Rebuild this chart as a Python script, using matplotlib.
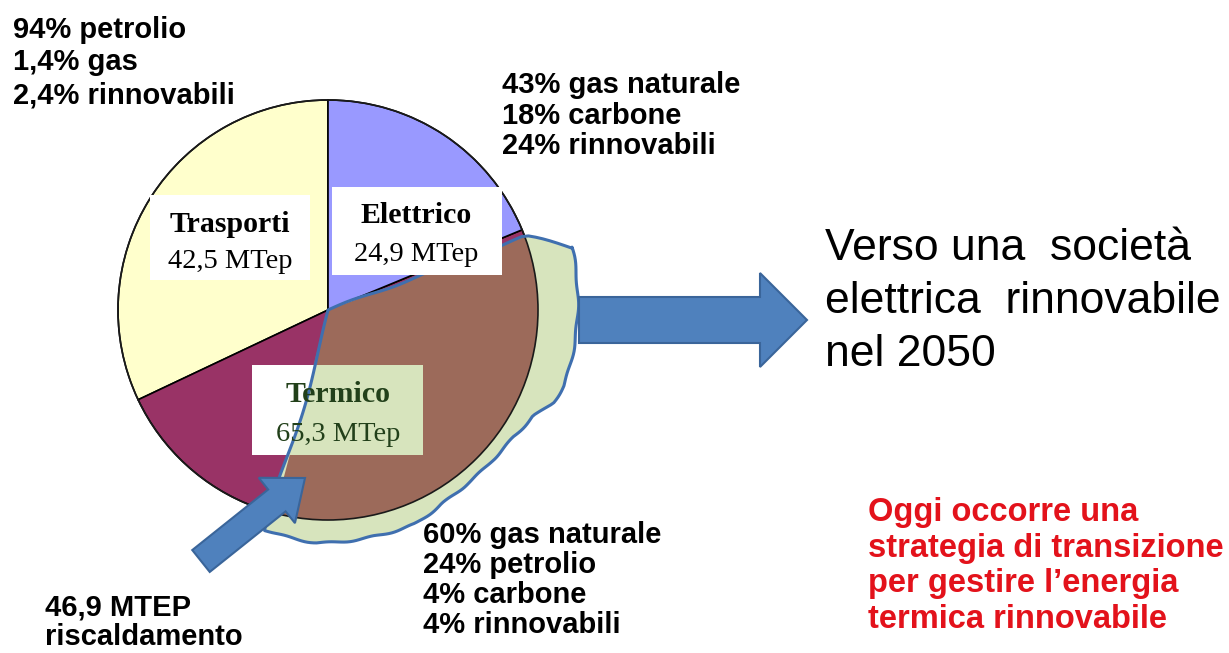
import numpy as np
import matplotlib.pyplot as plt
from matplotlib.patches import Wedge, Circle, Rectangle, Polygon, FancyArrow

plt.rcParams['font.family'] = ['Liberation Sans', 'DejaVu Sans']

W, H = 1229, 653

# dati
settori = ["Trasporti", "Termico", "Elettrico"]
mtep = [42.5, 65.3, 24.9]
etichette_mtep = ["42,5 MTep", "65,3 MTep", "24,9 MTep"]
riscaldamento = 46.9

mix_trasporti = ["94% petrolio", "1,4% gas", "2,4% rinnovabili"]
mix_elettrico = ["43% gas naturale", "18% carbone", "24% rinnovabili"]
mix_termico = ["60% gas naturale", "24% petrolio", "4% carbone", "4% rinnovabili"]
testo_riscaldamento = ["46,9 MTEP", "riscaldamento"]
testo_verso = ["Verso una  società", "elettrica  rinnovabile", "nel 2050"]
testo_rosso = ["Oggi occorre una", "strategia di transizione",
               "per gestire l\u2019energia", "termica rinnovabile"]

colori = ["#FFFFCC", "#993366", "#9999FF"]
marrone = "#9C6A5A"
verde = "#D7E4BD"
blu_bordo = "#3F6FAF"
blu_freccia = "#4F81BD"


def py(y):
    # coordinate immagine (y verso il basso) -> assi
    return H - y


fig = plt.figure(figsize=(W / 100, H / 100), dpi=100)
ax = fig.add_axes([0, 0, 1, 1])

cx, cy, R = 328, py(310), 210
wedges, _ = ax.pie(mtep, colors=colori, startangle=90, counterclock=True,
                   center=(cx, cy), radius=R, frame=True,
                   wedgeprops=dict(edgecolor='black', linewidth=1.2))
ax.set_xlim(0, W)
ax.set_ylim(0, H)
ax.set_aspect('equal')
ax.axis('off')

# parte "riscaldamento" dentro il settore termico
t_end = wedges[1].theta2 - 2.0
t_start = wedges[1].theta2 - 360 * riscaldamento / sum(mtep)

# forma verde irregolare attorno alla parte riscaldamento
prof_t = [0, .11, .27, .31, .35, .41, .48, .55, .62, .69, .78, .90, 1.0]
prof_r = [1.20, 1.19, 1.18, 1.16, 1.10, 1.07, 1.06, 1.06, 1.07, 1.10, 1.10, 1.11, 1.09]
tt = np.linspace(0, 1, 160)
rr = np.interp(tt, prof_t, prof_r) + 0.004 * np.sin(tt * 70)
ang = np.radians(t_end - 6 + tt * (t_start - t_end + 6))
outer = np.column_stack([cx + R * rr * np.cos(ang), cy + R * rr * np.sin(ang)])

s = np.linspace(0, 1.2, 40)
a_top = np.radians(t_end - np.clip(s - 1.0, 0, None) * 30)
top = np.column_stack([cx + R * s * np.cos(a_top), cy + R * s * np.sin(a_top)])
top[:, 1] += 1.2 * np.sin(s * 14)

s2 = np.linspace(rr[-1], 0, 40)
a_left = np.radians(t_start) + 0.03 * np.sin(s2 * 5)
left = np.column_stack([cx + R * s2 * np.cos(a_left), cy + R * s2 * np.sin(a_left)])

blob = np.vstack([top, outer, left])
ax.add_patch(Polygon(blob, closed=True, facecolor=verde, edgecolor='none', zorder=2))
ax.add_patch(Wedge((cx, cy), R, t_start, t_end, facecolor=marrone, edgecolor='none', zorder=3))
ax.add_patch(Circle((cx, cy), R, fill=False, edgecolor='#1a1a1a', linewidth=1.2, zorder=3.5))

# etichette dei settori
serif = ['Liberation Serif', 'DejaVu Serif']
box_tras = Rectangle((150, py(280)), 160, 85, facecolor='white', edgecolor='none', zorder=7)
box_elet = Rectangle((332, py(275)), 170, 88, facecolor='white', edgecolor='none', zorder=7)
box_term = Rectangle((252, py(455)), 171, 90, facecolor='white', edgecolor='none', zorder=5)
for b in (box_tras, box_elet, box_term):
    ax.add_patch(b)
velo = Polygon(blob, closed=True, facecolor=verde, edgecolor='none', zorder=5.5)
ax.add_patch(velo)
velo.set_clip_path(box_term)
ax.add_patch(Polygon(blob, closed=True, fill=False, edgecolor=blu_bordo,
                     linewidth=2.2, joinstyle='round', zorder=6))

pos_lab = {"Trasporti": (230, 232, 268, 'black'),
           "Elettrico": (416, 223, 261, 'black'),
           "Termico": (338, 402, 441, '#22401a')}
for nome, val in zip(settori, etichette_mtep):
    x, y1, y2, col = pos_lab[nome]
    ax.text(x, py(y1), nome, family=serif, fontweight='bold', fontsize=21.5,
            ha='center', va='baseline', color=col, zorder=8)
    ax.text(x, py(y2), val, family=serif, fontsize=20.5,
            ha='center', va='baseline', color=col, zorder=8)

# frecce
ax.add_patch(FancyArrow(579, py(320), 228, 0, width=46, head_width=94, head_length=47,
                        length_includes_head=True, facecolor=blu_freccia,
                        edgecolor='#3A659A', linewidth=1.5, zorder=9))
ax.add_patch(FancyArrow(201, py(561), 104, 83, width=28, head_width=58, head_length=36,
                        length_includes_head=True, facecolor=blu_freccia,
                        edgecolor='#3A659A', linewidth=1.5, zorder=9))

# testi
def blocco(righe, x, y0, passo, **kw):
    for i, r in enumerate(righe):
        ax.text(x, py(y0 + i * passo), r, va='baseline', ha='left', zorder=10, **kw)

blocco(mix_trasporti, 13, 38, 32.5, fontsize=21, fontweight='bold')
blocco(mix_elettrico, 502, 93, 30.5, fontsize=21, fontweight='bold')
blocco(mix_termico, 423, 543, 30, fontsize=21, fontweight='bold')
blocco(testo_riscaldamento, 45, 616, 29, fontsize=21, fontweight='bold')
blocco(testo_verso, 825, 260, 53, fontsize=32)
blocco(testo_rosso, 868, 521, 35.5, fontsize=23.5, fontweight='bold', color='#E3121B')

fig.savefig('out.png', dpi=100)
